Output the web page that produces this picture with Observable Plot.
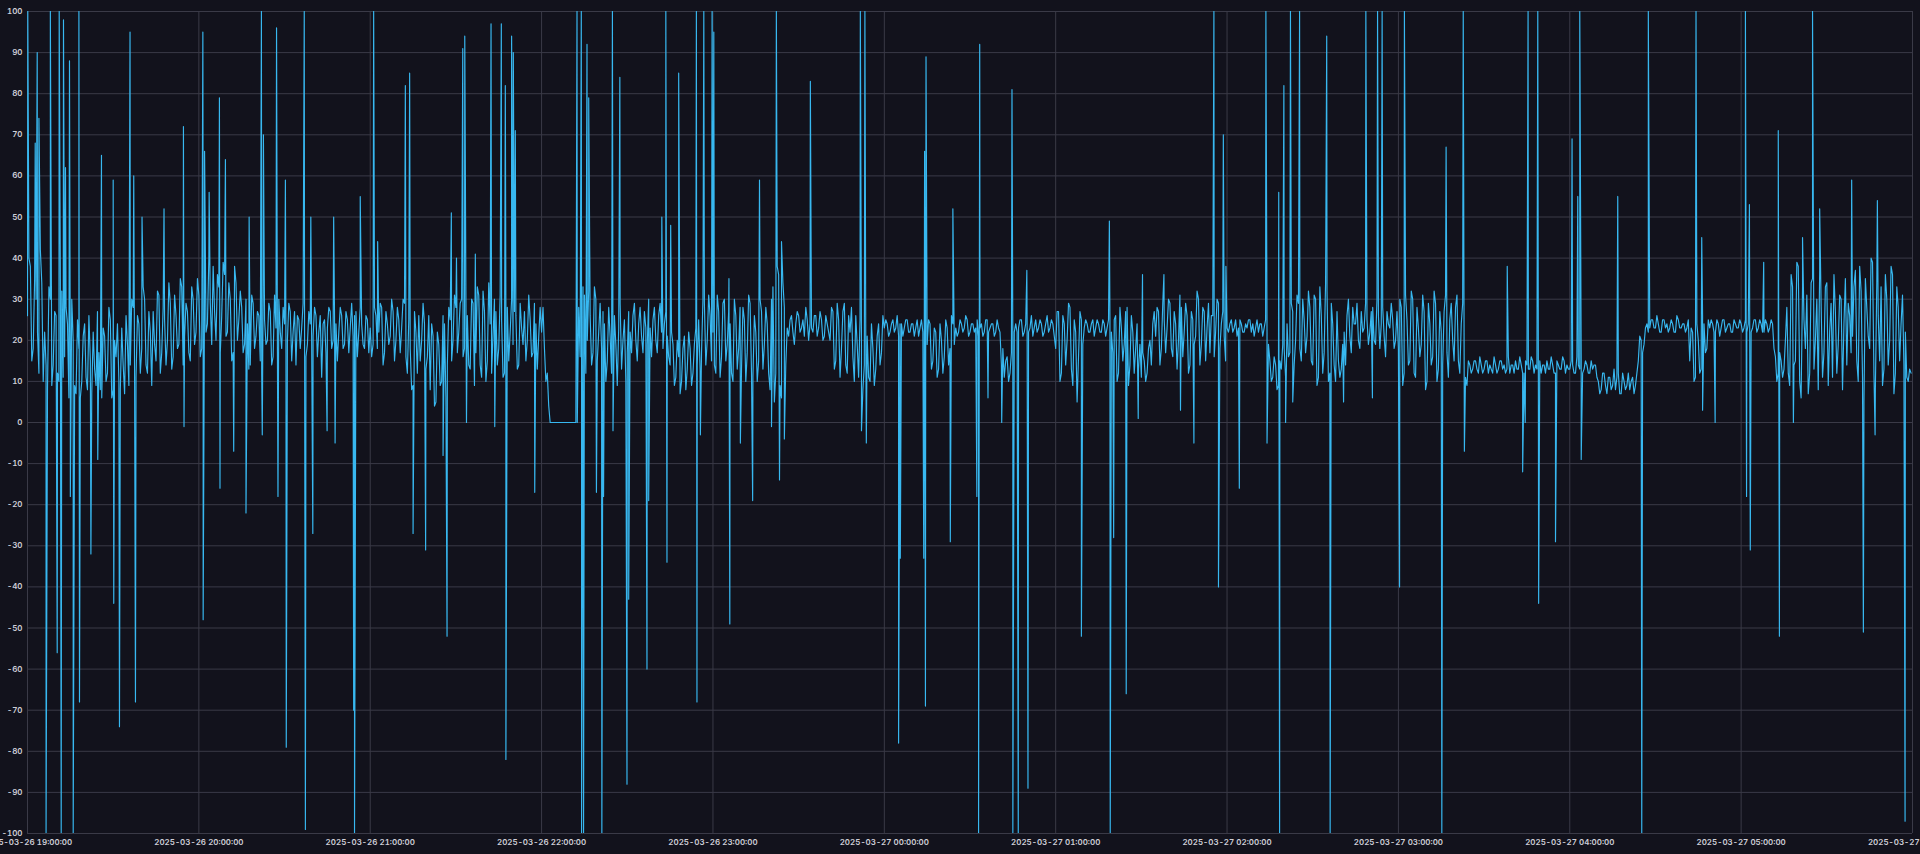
<!DOCTYPE html>
<html>
<head>
<meta charset="utf-8">
<script src="https://cdn.jsdelivr.net/npm/d3@7"></script>
<script src="https://cdn.jsdelivr.net/npm/@observablehq/plot@0.6"></script>
<style>
  html, body { margin: 0; padding: 0; background: #12121c; overflow: hidden; }
  #chart svg { display: block; }
</style>
</head>
<body>
<div id="chart"></div>
<script>
// Start/end of the series (UTC)
const startTime = "2025-03-26T19:00:00Z";
const endTime = "2025-03-27T06:00:00Z";

// Samples on the whole minute, one array per hour
const h19 = [26,38,18,30,12,34, 22,8,30,14,26,10,32,16,24,9, 20,7,18,10,24,8,15,22,9,17,6,21,12,25,8,16,10,23,7,19, 14,28,11,24,18,30,12,22,27,15,31,17,25,20, 29,16,26,19,33,21,27,15,30,22];
const h20 = [31,18,35,24,29,38,20,33,26,36,22,30,17,34,25, 28,19,24,14,29,21,26,12,25,20,27,16,23,30,18, 24,20,27,22,14,25,23,28,19,24,21,26,22,11,25,23,27,20,24,22,26,19,25,23,21,27,22,24,18,25];
const h21 = [23,19,26,22,28,17,24,21,27,20,25,23,29, 12,18,9,22,26,20,24,16, 8,21,5,19,10,24,14, 25,20,28,22,30,18,26, 13,29,17,31,11,27,15,24, 21,27,18,25,12,28,22,19,26,14,23,27,20,25,17,24,21];
const h22 = [22,18,12, 0,0,0,0,0,0,0,0,0,0, 28,14,31,20,26,17,30,22, 18,24,15,21,11,19,23,13,25,17, 22,26,20,24,21,27,19,23,25,20,26,22,24,21, 14,19,11,16,10,21,13,18,12,23, 25,17,29,20,26];
const h23 = [22,12,27,16,30,19,24,10,26,18, 13,25,17,29,11,22,15,27,19,24, 8,33,12,36,6,28, 23,25,22,24,26,23,21,25,24,22,26,23,25,21,24, 20,27,15,25,18,29,12,22,16,26,11,19,14,21,10,18,13,24,17];
const h00 = [23,24,22,25,23,21,24,23,25,22,24,23,21,25,24, 19,24,15,22,13,20,16,23,18,24, 23,22,24,23,25,22,24,23,21,24,22,25,23,24,22,23, 14,11,16,12,18, 24,23,25,22,24,23,21,25,23,24,22,26,23,24];
const h01 = [18,27,12,24,20,28,9,22,16,25, 23,24,22,25,23,24,22,24,23,25, 17,26,12,23,19,28,14,22,18,13,11,15,12,20,24, 21,27,18,25,23,29,16,24,20,28,22,26,14,25,21,30,19,27,23,17,26,22,29,24,21];
const h02 = [23,24,22,25,23,24,22,23,25,24,23,22,24,23,22, 15,11,14,9,13,18, 24,17,27,20,29,15,25,21,28, 14,30,11,26,17,32,12,24,10,15, 13,22,26,21,28,24,20,27,23,25,22,28,19,26,24,21,27,23,25,20];
const h03 = [18,28,12,25,15,30,11,23,19,27,10,24,16,29,13, 22,27,17,25,20,28,15,24,19,9, 14,13,15,12,14,13,15,14,12,14,13,15,14,13,12,14,15,13,14,12,14,13,15,14,13,12,14,15,13,14,12,14,13,15,14];
const h04 = [13,14,12,14,15,13,14,12,13,14, 10,8,12,7,11,9,8,12,7,10,9,8,11,9, 15,20,19, 24,23,25,23,24,22,25,24,23,24,22,25,23,24,23, 15,22,11,20,13,24,18, 23,24,22,24,23,25,23,24,22,24,23];
const h05 = [24,23,22,24,23,25,23,24,22,24,23,24, 16,12,15,13, 28,9,33,15,38,6,25,31,12,35,20,8,29,17,34,22,11,27,19,30,24,14,26,21, 37,10,32,5,28,18,39,8,26,33,13,30,20,36,12,28,24, 14,11,13];

// Samples on the half minute, one array per hour
const h19b = [40,15,35,22,42,10, 14,33,9,27,12,35,11,28,6,30, 9,25,6,21,11,26,7,13,27,8,23,10,28,6,20,24,8,14,26,9, 30,10,26,12,33,14,27,9,19,32,12,28,14,34, 13,31,18,35,14,29,17,33,19,35];
const h20b = [16,37,22,40,19,27,36,17,39,21,34,15,38,20,32, 17,30,13,31,18,27,15,32,19,29,14,31,18,22,28, 17,29,15,27,26,18,29,16,27,19,28,16,26,24,17,28,18,26,15,28,18,27,17,29,26,16,28,19,26,17];
const h21b = [16,28,18,29,14,27,19,30,15,28,17,30,16, 25,8,27,12,15,29,13,26, 24,4,22,9,26,6,28, 15,31,17,29,16,32,14, 30,9,33,14,32,10,34,12, 30,14,31,11,29,15,30,27,13,29,19,15,31,16,29,13,28];
const h22b = [28,10,4, 0,0,0,0,0,0,0,0,0,0, 16,33,12,32,14,33,15,29, 27,10,28,12,26,9,29,20,10,27, 17,29,15,28,17,23,30,16,28,17,29,18,27,16, 22,9,20,7,18,8,22,9,19,14, 13,30,14,31,15];
const h23b = [14,31,11,29,15,27,12,30,13,28, 28,10,31,12,26,10,30,13,28,12, 30,5,38,9,34,14, 21,26,19,27,22,25,28,20,23,26,21,27,20,26,22, 28,13,29,11,27,14,26,28,10,19,25,8,22,11,24,9,21,14,26];
const h00b = [25,21,24,22,26,24,21,25,22,24,21,25,23,22,26, 25,13,23,11,24,12,25,14,26,19, 21,25,22,26,21,24,22,25,23,21,25,22,24,21,25,22, 18,15,10,17,22, 22,25,21,24,22,26,23,22,25,21,24,22,25,21];
const h01b = [27,10,26,14,29,13,25,5,27,19, 25,22,24,21,25,22,25,21,25,22, 25,10,28,15,27,9,26,12,24,19,17,10,18,14,27, 28,14,29,17,30,18,27,13,31,16,29,12,27,19,32,14,28,15,29,26,16,30,18,27,15];
const h02b = [22,25,23,21,25,22,24,25,22,21,25,24,21,25,19, 10,16,8,15,19,11, 16,29,14,31,18,30,17,32,15, 31,9,33,12,34,10,29,14,27,11, 19,14,30,17,24,29,18,22,29,19,27,20,30,18,28,16,24,29,18,27];
const h03b = [30,9,31,14,32,12,28,16,31,8,29,14,32,10,27, 14,31,11,29,15,31,12,29,11,15, 12,15,13,16,12,15,12,13,16,12,15,13,12,16,14,12,13,16,12,15,13,16,12,13,15,14,12,13,16,12,15,13,16,12,13];
const h04b = [15,12,16,13,12,15,12,15,14,11, 7,12,9,11,8,13,11,7,12,8,12,10,7,12, 21,17,23, 22,25,23,26,22,25,23,22,25,22,26,23,24,22,25, 23,10,24,12,26,17,25, 25,22,25,21,25,22,24,22,25,23,25];
const h05b = [22,25,24,22,25,22,25,22,25,22,25,18, 10,17,11,20, 12,36,14,39,10,33,18,7,34,13,30,37,11,33,9,29,36,12,31,8,35,29,17,33, 15,38,11,35,21,40,12,34,15,9,36,14,38,7,33,15,31, 22,10,12];

// Short spikes: minutes after start, and value reached
const spikeMin = [0.1,2.7,3.4,4.0,6.5,8.0,10.4,11.1,11.8,12.6,13.3,14.7,15.0,16.0,18.0,18.2,22.2,24.6,25.9,30.0,30.2,32.2,35.9,37.2,37.8,40.1,47.8,54.6,54.8,61.4,61.5,62.0,63.6,67.2,67.4,69.3,72.2,76.5,77.6,81.9,82.2,82.6,87.2,87.7,90.3,90.6,96.9,97.3,99.2,99.9,104.9,107.2,107.7,
  114.2,114.5,116.5,121.2,122.6,132.3,133.8,135.0,139.4,145.5,146.9,148.4,150.2,152.4,153.1,153.7,156.8,162.3,163.6,165.9,167.3,167.5,169.5,170.1,170.8,177.6,192.4,193.9,194.0,194.7,195.9,196.5,199.2,201.1,201.7,204.8,205.0,207.4,209.9,210.5,216.9,217.5,222.1,223.5,223.9,
  225.2,228.0,234.2,234.4,235.6,236.8,239.7,240.3,245.6,245.9,249.6,253.9,256.3,260.5,262.2,263.3,264.0,265.0,274.1,291.6,292.0,293.2,293.7,305.0,305.6,313.8,314.1,314.4,314.6,323.1,324.0,332.4,333.0,333.4,336.3,
  341.1,344.7,345.0,346.9,349.9,350.3,369.0,378.8,379.1,380.3,384.7,388.9,390.4,397.9,403.7,408.4,415.4,417.0,418.7,419.6,424.3,433.6,434.0,438.1,438.4,439.9,440.5,442.2,443.0,445.4,
  454.9,456.1,460.8,468.6,470.9,472.7,474.3,480.4,482.1,495.2,496.7,502.7,503.1,518.1,523.5,524.4,525.4,528.8,529.1,535.0,540.8,542.8,543.5,544.0,556.8,
  565.2,567.5,584.2,586.2,586.5,590.9,601.5,601.9,602.9,603.2,607.9,613.0,613.4,618.3,621.5,625.0,627.5,638.7,642.8,646.9,647.7,657.4];
const spikeVal = [100,68,90,74,-100,100,-56,100,-100,98,62,88,-18,-100,100,-68,-32,-9,65,59,-44,-74,95,60,-68,50,52,72,-1,95,-48,66,56,79,-16,64,-7,-22,50,100,-3,70,96,-18,59,-79,100,-99,50,-27,-2,50,-5,
  -70,-100,55,100,44,82,85,-27,-31,-8,-52,51,40,91,94,0,41,97,-1,97,82,-82,94,90,71,-17,100,100,-100,-100,92,79,-17,-100,-18,100,-2,84,-88,-43,-60,-19,50,100,-34,
  48,85,100,-68,-3,100,100,95,35,-49,-5,-19,59,-1,100,-14,44,-4,83,100,-2,100,-5,-78,-33,-33,66,-69,89,-29,52,-18,-100,92,6,
  0,81,-100,-100,37,-89,-52,49,-100,-28,-66,1,36,36,3,-5,100,-40,70,38,-16,100,-5,56,-100,82,0,100,5,100,
  94,-100,5,100,6,100,100,-40,100,-100,67,100,-7,38,-12,0,100,100,-44,-29,69,55,100,-9,55,
  -100,100,100,45,3,0,100,-18,53,-31,39,71,-52,0,45,100,52,59,-51,-3,54,-97];

// Axis ticks
const yTicks = [-100,-90,-80,-70,-60,-50,-40,-30,-20,-10,0,10,20,30,40,50,60,70,80,90,100];
const xTickTimes = ["2025-03-26T19:00:00Z","2025-03-26T20:00:00Z","2025-03-26T21:00:00Z","2025-03-26T22:00:00Z","2025-03-26T23:00:00Z","2025-03-27T00:00:00Z","2025-03-27T01:00:00Z","2025-03-27T02:00:00Z","2025-03-27T03:00:00Z","2025-03-27T04:00:00Z","2025-03-27T05:00:00Z","2025-03-27T06:00:00Z"];

const t0 = new Date(startTime).getTime();
const whole = [].concat(h19, h20, h21, h22, h23, h00, h01, h02, h03, h04, h05);
const half = [].concat(h19b, h20b, h21b, h22b, h23b, h00b, h01b, h02b, h03b, h04b, h05b);
const pts = whole.map((v, i) => ({t: i, v}))
  .concat(half.map((v, i) => ({t: i + 0.5, v})))
  .concat(spikeMin.map((t, i) => ({t, v: spikeVal[i]})))
  .sort((a, b) => a.t - b.t);
const data = pts.map(p => ({date: new Date(t0 + p.t * 60000), value: p.v}));
const xTicks = xTickTimes.map(s => new Date(s));
const fmt = d3.utcFormat("%Y-%m-%d %H:%M:%S");

const chart = Plot.plot({
  width: 1920,
  height: 854,
  marginLeft: 27,
  marginRight: 8,
  marginTop: 11,
  marginBottom: 21,
  style: {background: "#12121c", color: "#cfcfd8", fontFamily: "Inter, 'Open Sans', sans-serif", fontSize: "8px"},
  x: {type: "utc", domain: [new Date(startTime), new Date(endTime)]},
  y: {domain: [-100, 100]},
  marks: [
    Plot.gridX(xTicks, {stroke: "#3a3a47", strokeOpacity: 1}),
    Plot.gridY(yTicks, {stroke: "#3a3a47", strokeOpacity: 1}),
    Plot.line(data, {x: "date", y: "value", stroke: "#38b8f0", strokeWidth: 1.15, clip: true}),
    Plot.axisX(xTicks, {tickSize: 0, tickPadding: 6, tickFormat: fmt, label: null, fontWeight: 600}),
    Plot.axisY(yTicks, {tickSize: 0, tickPadding: 5, tickFormat: d => String(d), label: null, fontWeight: 600})
  ]
});
document.getElementById("chart").appendChild(chart);
</script>
</body>
</html>
